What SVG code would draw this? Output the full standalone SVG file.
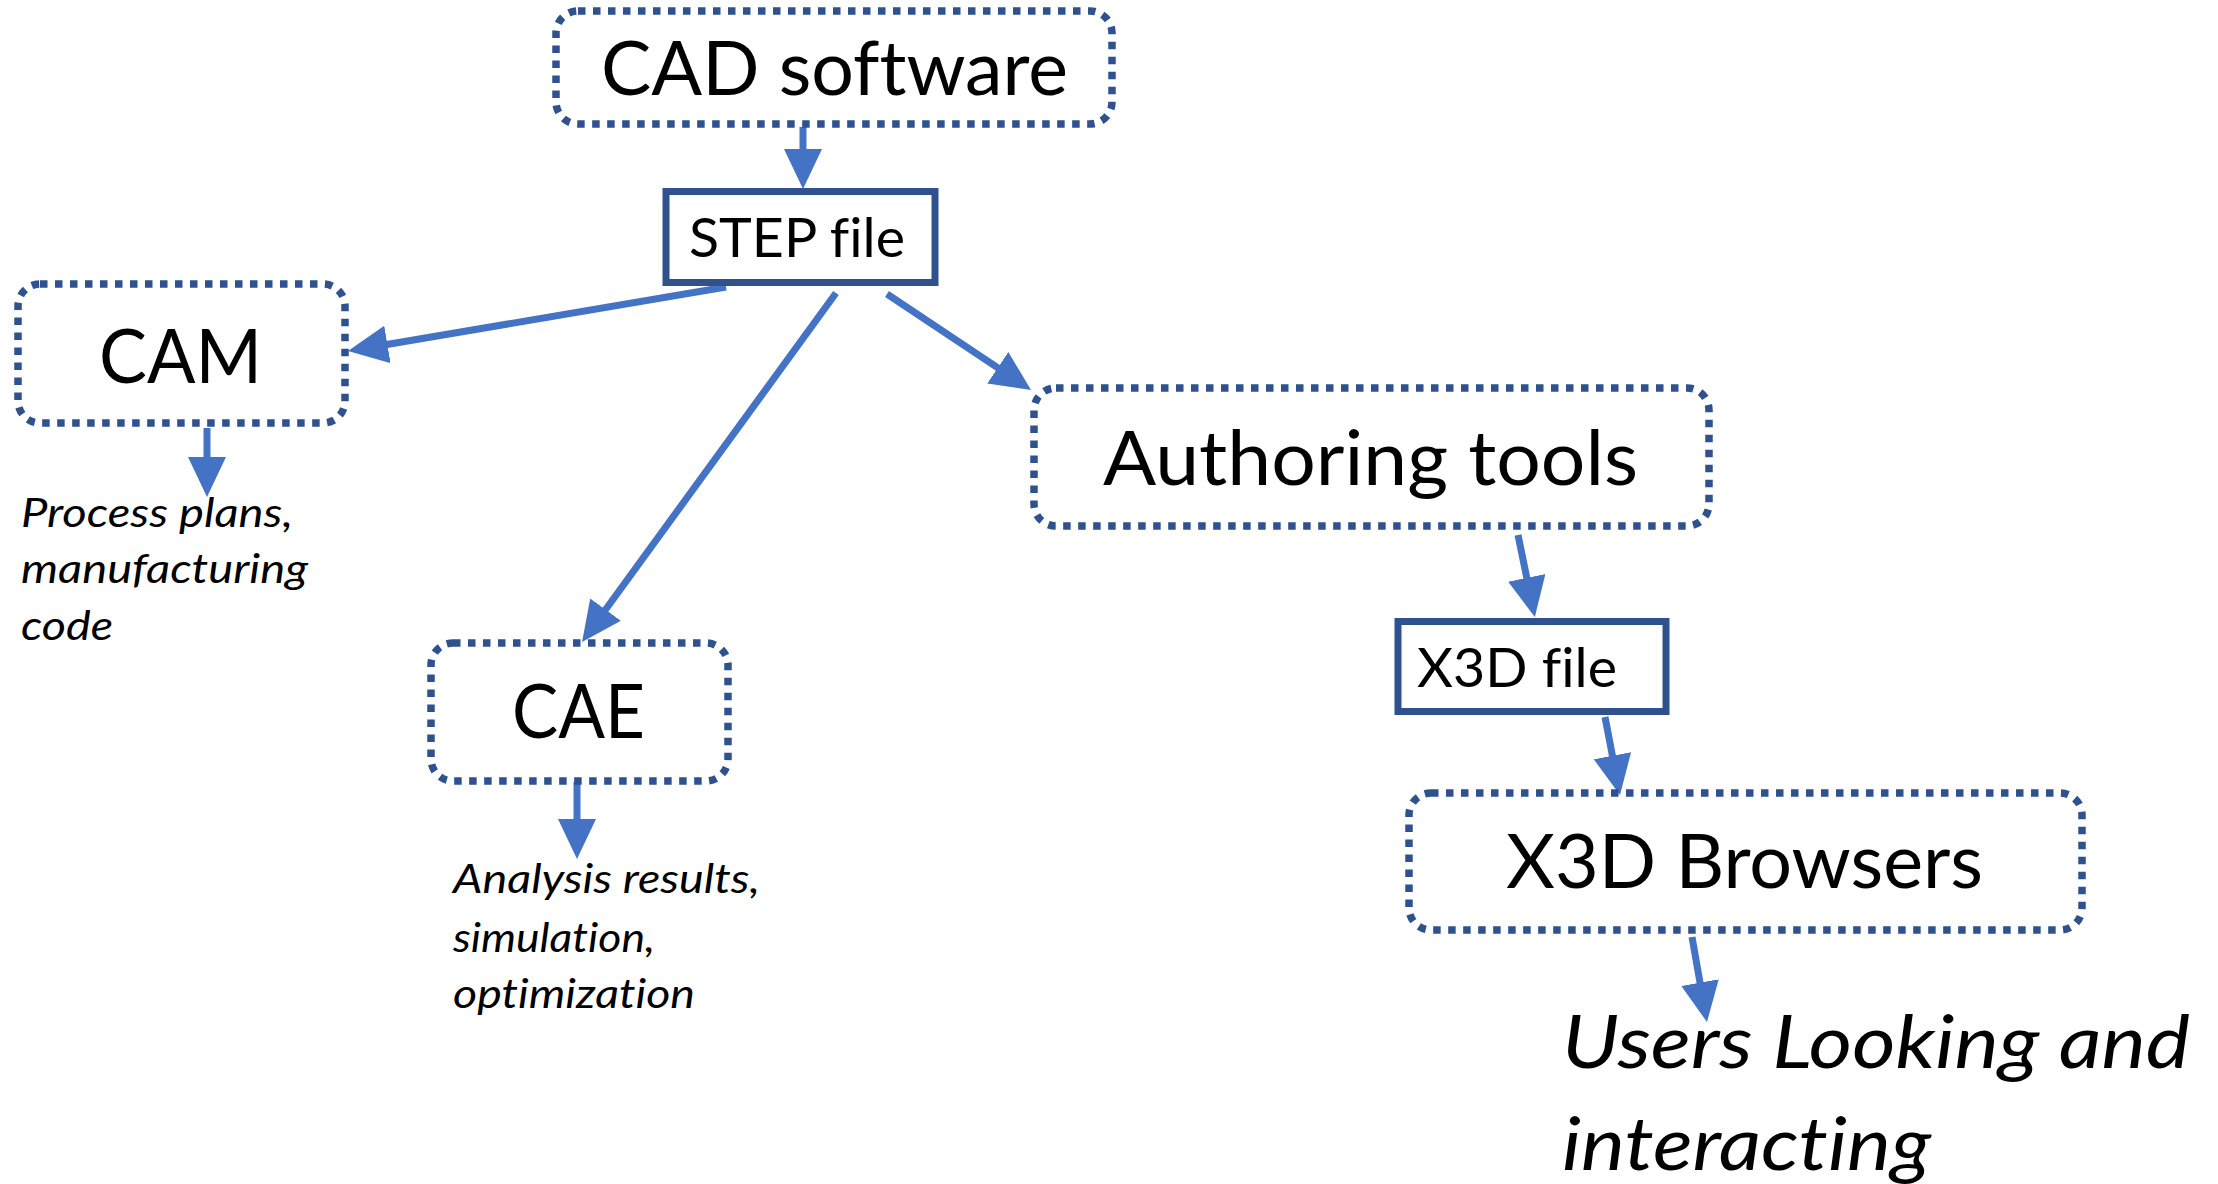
<svg xmlns="http://www.w3.org/2000/svg" width="2218" height="1184" viewBox="0 0 2218 1184">
<style>
text{font-variant-ligatures:none}
.dot{fill:none;stroke:#2F528F;stroke-width:7.5;stroke-dasharray:7.5 7.5}
.solid{fill:#fff;stroke:#2F528F;stroke-width:7}
.big{font-family:Lato,"Liberation Sans",sans-serif;font-size:76px;fill:#000}
.mid{font-family:Lato,"Liberation Sans",sans-serif;font-size:55px;fill:#000}
.it{font-family:Lato,"Liberation Sans",sans-serif;font-style:italic;font-size:40px;fill:#000}
.itbig{font-family:Lato,"Liberation Sans",sans-serif;font-style:italic;font-size:74px;fill:#000}
.conn{fill:none;stroke:#4472C4;stroke-width:7;marker-end:url(#ah)}
</style>
<defs>
<marker id="ah" markerUnits="userSpaceOnUse" markerWidth="40" markerHeight="40" refX="20" refY="19" orient="auto">
<path d="M0,0 L40,19 L0,38 Z" fill="#4472C4"/>
</marker>
</defs>
<rect width="2218" height="1184" fill="#fff"/>
<g id="connectors">
<path class="conn" d="M803,127 L803,169"/>
<path class="conn" d="M726,287 L367.7,347.7"/>
<path class="conn" d="M836,293 L593.8,625.8"/>
<path class="conn" d="M887,294 L1014.4,378.9"/>
<path class="conn" d="M1518,535 L1530.8,597.4"/>
<path class="conn" d="M1605,717 L1616.2,775.4"/>
<path class="conn" d="M1692,937 L1703.5,1002.3"/>
<path class="conn" d="M207,428 L207,477"/>
<path class="conn" d="M577,782 L577,839"/>
</g>
<g id="cad">
<rect class="dot" x="556" y="11" width="556" height="113" rx="22"/>
<text class="big" x="601" y="95" textLength="467" lengthAdjust="spacingAndGlyphs">CAD software</text>
</g>
<g id="step">
<rect class="solid" x="666" y="191.5" width="269" height="91"/>
<text class="mid" x="689" y="257" textLength="216" lengthAdjust="spacingAndGlyphs">STEP file</text>
</g>
<g id="cam">
<rect class="dot" x="18" y="284" width="327" height="139" rx="22"/>
<text class="big" x="99" y="383" textLength="163" lengthAdjust="spacingAndGlyphs">CAM</text>
</g>
<g id="cam-out">
<text class="it" x="21" y="527" textLength="272" lengthAdjust="spacingAndGlyphs">Process plans,</text>
<text class="it" x="21" y="583" textLength="287" lengthAdjust="spacingAndGlyphs">manufacturing</text>
<text class="it" x="21" y="640" textLength="92" lengthAdjust="spacingAndGlyphs">code</text>
</g>
<g id="cae">
<rect class="dot" x="431" y="643" width="297" height="138" rx="22"/>
<text class="big" x="512" y="738" textLength="133" lengthAdjust="spacingAndGlyphs">CAE</text>
</g>
<g id="cae-out">
<text class="it" x="453" y="893" textLength="307" lengthAdjust="spacingAndGlyphs">Analysis results,</text>
<text class="it" x="453" y="952" textLength="202" lengthAdjust="spacingAndGlyphs">simulation,</text>
<text class="it" x="453" y="1008" textLength="242" lengthAdjust="spacingAndGlyphs">optimization</text>
</g>
<g id="authoring">
<rect class="dot" x="1034" y="388" width="675" height="138" rx="22"/>
<text class="big" x="1103" y="485" textLength="535" lengthAdjust="spacingAndGlyphs">Authoring tools</text>
</g>
<g id="x3dfile">
<rect class="solid" x="1398" y="621.5" width="268" height="90"/>
<text class="mid" x="1417" y="687" textLength="200" lengthAdjust="spacingAndGlyphs">X3D file</text>
</g>
<g id="browsers">
<rect class="dot" x="1409" y="793" width="673" height="137" rx="22"/>
<text class="big" x="1506" y="888" textLength="477" lengthAdjust="spacingAndGlyphs">X3D Browsers</text>
</g>
<g id="users">
<text class="itbig" x="1562" y="1068" textLength="628" lengthAdjust="spacingAndGlyphs">Users Looking and</text>
<text class="itbig" x="1562" y="1170" textLength="369" lengthAdjust="spacingAndGlyphs">interacting</text>
</g>
</svg>
